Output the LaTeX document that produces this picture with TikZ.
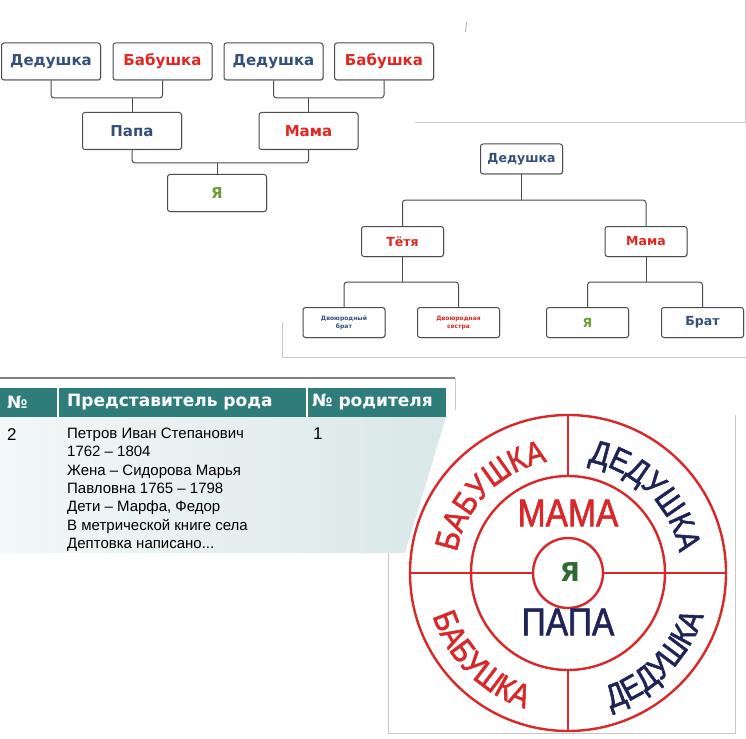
\documentclass[tikz,border=0pt]{standalone}
\usepackage{fontspec}
\setmainfont{Liberation Sans}
\newfontfamily\boxfont{DejaVu Sans}
\newfontfamily\ringfont[FakeStretch=0.86,FakeBold=1.6]{Liberation Sans}
\usetikzlibrary{decorations.text,shadows}
\definecolor{navy}{HTML}{34507A}
\definecolor{brick}{HTML}{E0261E}
\definecolor{leaf}{HTML}{6E9C34}
\definecolor{tealhd}{HTML}{2E7D7B}
\definecolor{ringred}{HTML}{D8282A}
\definecolor{ringnavy}{HTML}{1E2457}
\definecolor{ringgreen}{HTML}{2F6A33}
\definecolor{frame}{HTML}{C9C9C9}
\tikzset{
  fig/.style={x=1pt,y=1pt,line join=round},
  box/.style={draw=black!70,fill=white,rounded corners=2.5pt,line width=1pt,
    minimum width=99pt,minimum height=37pt,
    font=\boxfont\bfseries\fontsize{15}{15}\selectfont,
    drop shadow={shadow xshift=0.8pt,shadow yshift=-0.8pt,opacity=0.35}},
  smallbox/.style={box,minimum width=82pt,minimum height=30pt,
    font=\boxfont\bfseries\fontsize{12.5}{12.5}\selectfont},
  tinybox/.style={smallbox,align=center,font=\boxfont\bfseries\fontsize{6}{8}\selectfont},
  link/.style={draw=black!70,line width=1pt,rounded corners=3pt},
  panel/.style={draw=frame,line width=0.8pt},
  hdr/.style={anchor=west,text=white,font=\boxfont\bfseries\fontsize{17}{17}\selectfont,inner sep=0pt},
  cell/.style={anchor=north west,inner sep=0pt,font=\fontsize{15}{18.3}\selectfont},
  ring/.style={draw=ringred,line width=2.4pt},
  word/.style={font=\ringfont\fontsize{39}{39}\selectfont},
}

\begin{document}
\begin{tikzpicture}[fig]
  \fill[white] (0,0) rectangle (746,-738);
  \useasboundingbox (0,0) rectangle (746,-738);

  % panel frames
  \draw[panel] (745,0) -- (745,-122);
  \draw[black!45,line width=0.6pt] (466.5,-22) -- (465.5,-32);
  \draw[panel] (415,-122) -- (746,-122);
  \draw[panel] (282,-322) -- (282,-357) -- (746,-357);
  \draw[black!50,line width=1.5pt] (0,-378) -- (455,-378);
  \draw[panel] (455,-378) -- (455,-410);
  \draw[panel] (388,-517) -- (388,-733) -- (735,-733) -- (735,-415);

  % family tree, upward
  \node[box,text=navy] (ded1) at (51,-61.5) {Дедушка};
  \node[box,text=brick] (bab1) at (162.5,-61.5) {Бабушка};
  \node[box,text=navy] (ded2) at (273.5,-61.5) {Дедушка};
  \node[box,text=brick] (bab2) at (384,-61.5) {Бабушка};
  \node[box,text=navy] (papa) at (132,-131) {Папа};
  \node[box,text=brick] (mama) at (308.5,-131) {Мама};
  \node[box,text=leaf] (me) at (217,-193) {Я};
  \coordinate (j1) at (132,-98);
  \coordinate (j2) at (308.5,-98);
  \coordinate (j3) at (217,-163);
  \draw[link] (ded1.south) |- (j1) -| (bab1.south);
  \draw[link] (j1) -- (papa.north);
  \draw[link] (ded2.south) |- (j2) -| (bab2.south);
  \draw[link] (j2) -- (mama.north);
  \draw[link] (papa.south) |- (j3) -| (mama.south);
  \draw[link] (j3) -- (me.north);

  % family tree, downward
  \node[smallbox,text=navy] (gdad) at (521.5,-159) {Дедушка};
  \node[smallbox,text=brick] (aunt) at (402.5,-241.5) {Тётя};
  \node[smallbox,text=brick] (mom) at (646,-241.5) {Мама};
  \node[tinybox,text=navy] (cousin) at (344,-322.5) {Двоюродный\\брат};
  \node[tinybox,text=brick] (cousine) at (458.5,-322.5) {Двоюродная\\сестра};
  \node[smallbox,text=leaf] (self) at (587.5,-322.5) {Я};
  \node[smallbox,text=navy] (bro) at (702.5,-322.5) {Брат};
  \coordinate (k1) at (521.5,-200);
  \coordinate (k2) at (402.5,-282);
  \coordinate (k3) at (646,-282);
  \draw[link] (gdad.south) -- (k1);
  \draw[link] (aunt.north) |- (k1) -| (mom.north);
  \draw[link] (aunt.south) -- (k2);
  \draw[link] (cousin.north) |- (k2) -| (cousine.north);
  \draw[link] (mom.south) -- (k3);
  \draw[link] (self.north) |- (k3) -| (bro.north);

  % table
  \fill[tealhd] (0,-388) rectangle (446,-417);
  \draw[white,line width=1.5pt] (58,-388) -- (58,-417);
  \draw[white,line width=1.5pt] (307,-388) -- (307,-417);
  \shade[left color=white!94!tealhd,right color=white!82!tealhd]
    (0,-417) -- (446,-417) -- (405,-553) -- (0,-553) -- cycle;
  \node[hdr] (hnum) at (7,-402.5) {№};
  \node[hdr] (hname) at (67,-402.5) {Представитель рода};
  \node[hdr] (hpar) at (312,-402.5) {№ родителя};
  \node[cell,font=\fontsize{17}{17}\selectfont] (num) at (7,-428) {2};
  \node[cell,font=\fontsize{17}{17}\selectfont] (par) at (313,-428) {1};
  \node[cell,align=left] (entry) at (67,-428) {Петров Иван Степанович\\1762 – 1804\\Жена – Сидорова Марья\\Павловна 1765 – 1798\\Дети – Марфа, Федор\\В метрической книге села\\Дептовка написано...};

  % family circle
  \begin{scope}[shift={(568,-573)}]
    \draw[ring] (0,0) circle[radius=158];
    \draw[ring] (0,0) circle[radius=97];
    \draw[ring] (0,0) circle[radius=35];
    \draw[ring] (-158,0) -- (-35,0);
    \draw[ring] (35,0) -- (158,0);
    \draw[ring] (0,158) -- (0,97);
    \draw[ring] (0,-97) -- (0,-158);
    \node[word,text=ringred] (mamaw) at (0,60) {МАМА};
    \node[word,text=ringnavy] (papaw) at (0,-49) {ПАПА};
    \node[font=\boxfont\bfseries\fontsize{26}{26}\selectfont,text=ringgreen] (selfw) at (2,1) {Я};
    \path[decorate,decoration={text along path,text align=center,
      text={|\ringfont\fontsize{33}{33}\selectfont\color{ringred}|БАБУШКА}}]
      (180:113) arc[start angle=180,end angle=90,radius=113];
    \path[decorate,decoration={text along path,text align=center,
      text={|\ringfont\fontsize{33}{33}\selectfont\color{ringnavy}|ДЕДУШКА}}]
      (90:113) arc[start angle=90,end angle=0,radius=113];
    \path[decorate,decoration={text along path,text align=center,
      text={|\ringfont\fontsize{33}{33}\selectfont\color{ringred}|БАБУШКА}}]
      (180:142) arc[start angle=180,end angle=270,radius=142];
    \path[decorate,decoration={text along path,text align=center,
      text={|\ringfont\fontsize{33}{33}\selectfont\color{ringnavy}|ДЕДУШКА}}]
      (270:142) arc[start angle=270,end angle=360,radius=142];
  \end{scope}
\end{tikzpicture}
\end{document}
